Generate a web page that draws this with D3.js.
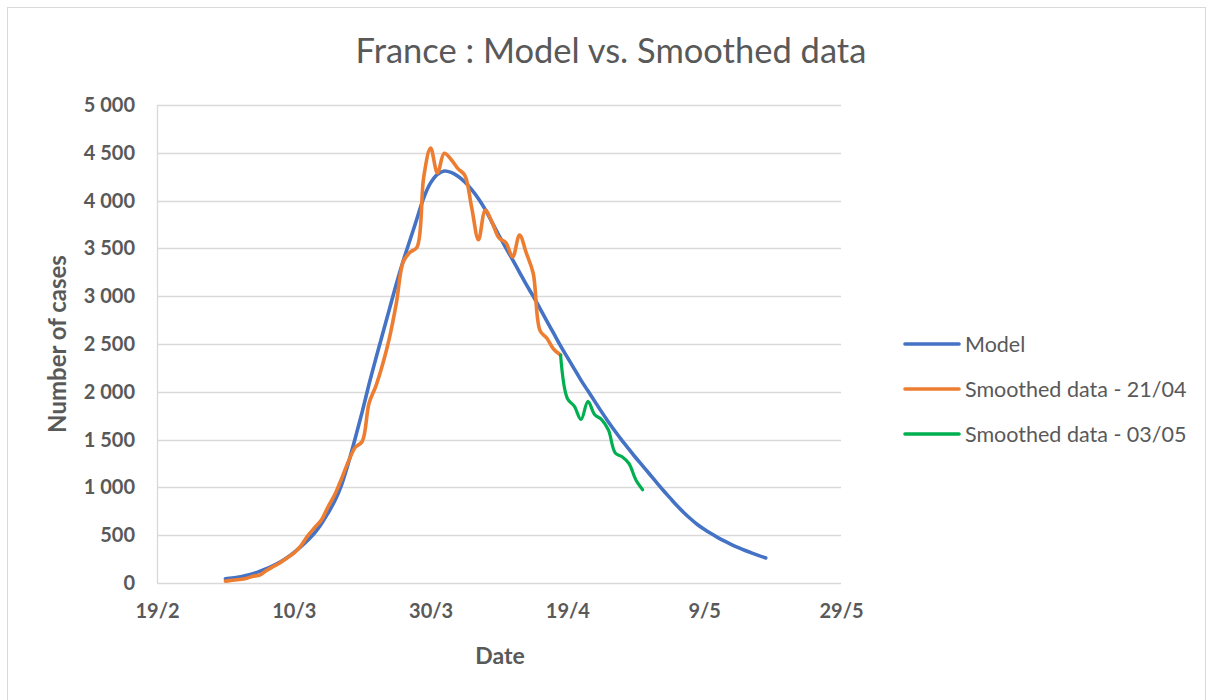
<!DOCTYPE html>
<html>
<head>
<meta charset="utf-8">
<script src="https://cdn.jsdelivr.net/npm/d3@7"></script>
<style>
  body { margin: 0; background: #fff; }
  svg { display: block; font-family: Lato, "Open Sans", sans-serif; }
</style>
</head>
<body>
<svg id="chart" width="1213" height="700"></svg>
<script>
// daily values, model runs 29/2 -> 18/5
const modelStart = "2020-02-29";
const modelValues = [
  45, 52, 62, 78, 98, 122, 150, 183, 220, 265,
  318, 378, 445, 520, 615, 730, 860, 1030, 1260, 1520,
  1790, 2080, 2350, 2610, 2870, 3130, 3370, 3590, 3810, 4030,
  4185, 4275, 4310, 4295, 4255, 4195, 4115, 4020, 3905, 3770,
  3635, 3505, 3380, 3250, 3120, 3000, 2870, 2740, 2610, 2480,
  2360, 2240, 2120, 2010, 1900, 1790, 1685, 1585, 1490, 1400,
  1310, 1225, 1140, 1055, 970, 890, 810, 738, 672, 612,
  562, 517, 475, 437, 402, 370, 340, 312, 286, 262
];

// smoothed data (as of 21/04), 29/2 -> 18/4
const smooth1Start = "2020-02-29";
const smooth1Values = [
  20, 28, 36, 48, 70, 82, 130, 172, 212, 262,
  312, 385, 490, 575, 655, 795, 925, 1095, 1275, 1420,
  1480, 1880, 2060, 2290, 2570, 2930, 3360, 3460, 3510, 4250,
  4550, 4290, 4495, 4430, 4335, 4265, 3930, 3590, 3900, 3770,
  3610, 3560, 3410, 3640, 3450, 3240, 2640, 2560, 2445, 2385
];

// smoothed data (as of 03/05), 18/4 -> 30/4
const smooth2Start = "2020-04-18";
const smooth2Values = [2385, 1930, 1850, 1710, 1900, 1760, 1710, 1600, 1360, 1320, 1250, 1080, 975];

const xTickDates = ["2020-02-19", "2020-03-10", "2020-03-30", "2020-04-19", "2020-05-09", "2020-05-29"];
const yTicks = [0, 500, 1000, 1500, 2000, 2500, 3000, 3500, 4000, 4500, 5000];

const seriesNames = ["Model", "Smoothed data - 21/04", "Smoothed data - 03/05"];
const seriesColors = ["#4472C4", "#ED7D31", "#00B050"];

const parse = d3.utcParse("%Y-%m-%d");
function toPoints(start, values) {
  const t0 = parse(start);
  return values.map((v, i) => ({ date: d3.utcDay.offset(t0, i), value: v }));
}
const series = [
  toPoints(modelStart, modelValues),
  toPoints(smooth1Start, smooth1Values),
  toPoints(smooth2Start, smooth2Values)
];

const svg = d3.select("#chart");
const textColor = "#595959";
const gridColor = "#d9d9d9";

// chart frame
svg.append("rect")
  .attr("x", 7.5).attr("y", 7.5)
  .attr("width", 1198).attr("height", 700)
  .attr("fill", "#fff").attr("stroke", gridColor);

const x = d3.scaleUtc()
  .domain([parse(xTickDates[0]), parse(xTickDates[xTickDates.length - 1])])
  .range([157, 841]);
const y = d3.scaleLinear().domain([0, 5000]).range([583, 105]);

const fr = d3.formatLocale({ decimal: ",", thousands: " ", grouping: [3], currency: ["", ""] });
const fmtY = fr.format(",d");

// gridlines
svg.append("g")
  .selectAll("line")
  .data(yTicks)
  .join("line")
  .attr("x1", x.range()[0]).attr("x2", x.range()[1])
  .attr("y1", d => Math.round(y(d)) + 0.5).attr("y2", d => Math.round(y(d)) + 0.5)
  .attr("stroke", gridColor).attr("stroke-width", 1.3);

svg.append("line")
  .attr("x1", x.range()[0] + 0.5).attr("x2", x.range()[0] + 0.5)
  .attr("y1", y(5000)).attr("y2", y(0))
  .attr("stroke", gridColor).attr("stroke-width", 1.3);

// y axis labels
const yAxis = svg.append("g")
  .attr("transform", "translate(157,0)")
  .call(d3.axisLeft(y).tickValues(yTicks).tickFormat(fmtY).tickSize(0).tickPadding(22));
yAxis.select(".domain").remove();
yAxis.selectAll("text")
  .attr("fill", textColor)
  .style("font-size", "20px").style("font-weight", "bold")
  .style("font-family", "Lato, sans-serif");

// x axis labels
const xAxis = svg.append("g")
  .attr("transform", "translate(0,583)")
  .call(d3.axisBottom(x)
    .tickValues(xTickDates.map(parse))
    .tickFormat(d3.utcFormat("%-d/%-m"))
    .tickSize(0).tickPadding(21));
xAxis.select(".domain").remove();
xAxis.selectAll("text")
  .attr("fill", textColor)
  .style("font-size", "20px").style("font-weight", "bold")
  .style("font-family", "Lato, sans-serif");

// lines
const line = d3.line()
  .x(d => x(d.date))
  .y(d => y(d.value))
  .curve(d3.curveCatmullRom.alpha(0.5));

svg.append("g")
  .selectAll("path")
  .data(series)
  .join("path")
  .attr("d", line)
  .attr("fill", "none")
  .attr("stroke", (d, i) => seriesColors[i])
  .attr("stroke-width", (d, i) => i === 2 ? 3.2 : 3.6)
  .attr("stroke-linejoin", "round")
  .attr("stroke-linecap", "round");

// titles
svg.append("text")
  .attr("x", 611).attr("y", 63)
  .attr("text-anchor", "middle")
  .attr("fill", textColor)
  .style("font-size", "34.5px")
  .text("France : Model vs. Smoothed data");

svg.append("text")
  .attr("x", 500).attr("y", 664)
  .attr("text-anchor", "middle")
  .attr("fill", textColor)
  .style("font-size", "23px").style("font-weight", "bold")
  .text("Date");

svg.append("text")
  .attr("transform", "translate(66,344) rotate(-90)")
  .attr("text-anchor", "middle")
  .attr("fill", textColor)
  .style("font-size", "24px").style("font-weight", "bold")
  .text("Number of cases");

// legend
const legend = svg.append("g")
  .selectAll("g")
  .data(seriesNames)
  .join("g")
  .attr("transform", (d, i) => `translate(905,${344 + i * 45})`);
legend.append("line")
  .attr("x1", 0).attr("x2", 54)
  .attr("stroke", (d, i) => seriesColors[i])
  .attr("stroke-width", 3.6)
  .attr("stroke-linecap", "round");
legend.append("text")
  .attr("x", 60).attr("dy", "0.35em")
  .attr("fill", textColor)
  .style("font-size", "21.5px")
  .text(d => d);
</script>
</body>
</html>
